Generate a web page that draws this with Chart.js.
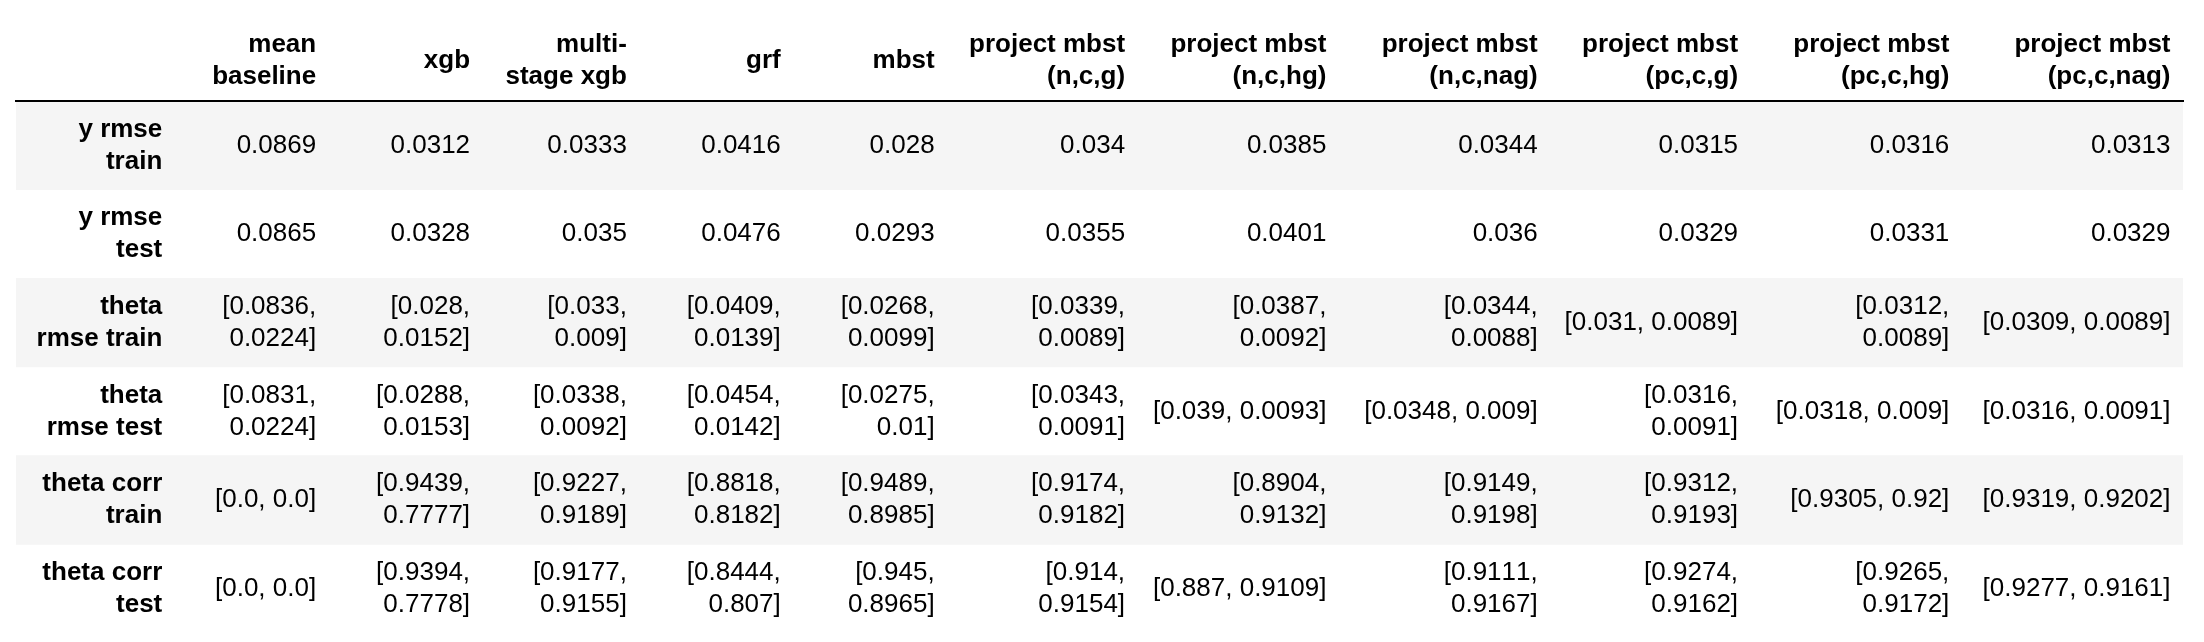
<!DOCTYPE html>
<html>
<head>
<meta charset="utf-8">
<script src="https://cdn.jsdelivr.net/npm/chart.js@4.4.1/dist/chart.umd.min.js"></script>
<style>
  html, body { margin: 0; padding: 0; background: #fff; }
  #wrap { width: 2204px; height: 642px; }
</style>
</head>
<body>
<div id="wrap"><canvas id="table"></canvas></div>
<script>
// Row labels (index) and column headers, line breaks as in the table
const rowLabels = [
    ['y rmse', 'train'],
    ['y rmse', 'test'],
    ['theta', 'rmse train'],
    ['theta', 'rmse test'],
    ['theta corr', 'train'],
    ['theta corr', 'test']
];
const columns = [
    ['mean', 'baseline'],
    ['xgb'],
    ['multi-', 'stage xgb'],
    ['grf'],
    ['mbst'],
    ['project mbst', '(n,c,g)'],
    ['project mbst', '(n,c,hg)'],
    ['project mbst', '(n,c,nag)'],
    ['project mbst', '(pc,c,g)'],
    ['project mbst', '(pc,c,hg)'],
    ['project mbst', '(pc,c,nag)']
];

// Values, one array per row, one entry per column
const yRmseTrain = [0.0869, 0.0312, 0.0333, 0.0416, 0.028, 0.034, 0.0385, 0.0344, 0.0315, 0.0316, 0.0313];
const yRmseTest = [0.0865, 0.0328, 0.035, 0.0476, 0.0293, 0.0355, 0.0401, 0.036, 0.0329, 0.0331, 0.0329];
const thetaRmseTrain = [[0.0836, 0.0224], [0.028, 0.0152], [0.033, 0.009], [0.0409, 0.0139], [0.0268, 0.0099],
    [0.0339, 0.0089], [0.0387, 0.0092], [0.0344, 0.0088], [0.031, 0.0089], [0.0312, 0.0089], [0.0309, 0.0089]];
const thetaRmseTest = [[0.0831, 0.0224], [0.0288, 0.0153], [0.0338, 0.0092], [0.0454, 0.0142], [0.0275, 0.01],
    [0.0343, 0.0091], [0.039, 0.0093], [0.0348, 0.009], [0.0316, 0.0091], [0.0318, 0.009], [0.0316, 0.0091]];
const thetaCorrTrain = [[0.0, 0.0], [0.9439, 0.7777], [0.9227, 0.9189], [0.8818, 0.8182], [0.9489, 0.8985],
    [0.9174, 0.9182], [0.8904, 0.9132], [0.9149, 0.9198], [0.9312, 0.9193], [0.9305, 0.92], [0.9319, 0.9202]];
const thetaCorrTest = [[0.0, 0.0], [0.9394, 0.7778], [0.9177, 0.9155], [0.8444, 0.807], [0.945, 0.8965],
    [0.914, 0.9154], [0.887, 0.9109], [0.9111, 0.9167], [0.9274, 0.9162], [0.9265, 0.9172], [0.9277, 0.9161]];

const rowValues = [yRmseTrain, yRmseTest, thetaRmseTrain, thetaRmseTest, thetaCorrTrain, thetaCorrTest];

// Look
const FONT = "'Liberation Sans', Arial, Helvetica, sans-serif";
const SIZE = 26;
const LINE = 32;          // line height in px
const PAD = 12.5;         // cell padding left/right
const STRIPE = '#f5f5f5';
const AREA = { left: 16, right: 21, top: 0, bottom: 9 };
const HEADER_H = 101;

// python style number text
function py(v) {
    return Number.isInteger(v) ? v.toFixed(1) : String(v);
}
function cellText(v) {
    return Array.isArray(v) ? '[' + v.map(py).join(', ') + ']' : py(v);
}
function joinLines(lines) {
    return lines.reduce((s, l) => s === '' ? l : (s.endsWith('-') ? s + l : s + ' ' + l), '');
}

const mctx = document.createElement('canvas').getContext('2d');
mctx.fontKerning = 'none';
function textW(t, bold) {
    mctx.font = (bold ? 'bold ' : '') + SIZE + 'px ' + FONT;
    return mctx.measureText(t).width;
}
function wrap(text, maxW) {
    const words = text.split(' ');
    const lines = [];
    let cur = '';
    words.forEach(w => {
        const test = cur ? cur + ' ' + w : w;
        if (cur && textW(test) > maxW) {
            lines.push(cur);
            cur = w;
        } else {
            cur = test;
        }
    });
    lines.push(cur);
    return lines;
}

// Auto table layout: column widths follow each column's one-line (max) content width
const maxContent = [Math.max(...rowLabels.map(l => textW(joinLines(l), true)))];
const minContent = [Math.max(...rowLabels.flat().map(l => textW(l, true)))];
columns.forEach((head, c) => {
    const cells = rowValues.map(r => cellText(r[c]));
    maxContent.push(Math.max(textW(joinLines(head), true), ...cells.map(t => textW(t))));
    minContent.push(Math.max(...head.map(l => textW(l, true)),
        ...cells.flatMap(t => t.split(' ')).map(t => textW(t))));
});
const tableW = 2204 - AREA.left - AREA.right;
const nCols = maxContent.length;
const shrink = (tableW - nCols * 2 * PAD) / maxContent.reduce((a, b) => a + b, 0);
const contentW = maxContent.map((m, i) => Math.max(minContent[i], m * shrink));
const textRight = [];
let edge = 0;
contentW.forEach(w => {
    edge += w + 2 * PAD;
    textRight.push(edge - PAD);
});
const tableMax = edge;

// wrapped cell text
const cellLines = rowValues.map(r => r.map((v, c) => wrap(cellText(v), contentW[c + 1])));

const widestRowLine = Math.max(...rowLabels.flat().map(l => textW(l, true)));

// draws the body cells at the scales' positions
const cellPlugin = {
    id: 'cellText',
    afterDatasetsDraw(chart) {
        const { ctx, scales: { x, y } } = chart;
        ctx.save();
        ctx.font = SIZE + 'px ' + FONT;
        ctx.fontKerning = 'none';
        ctx.fillStyle = '#000';
        ctx.textAlign = 'right';
        ctx.textBaseline = 'middle';
        cellLines.forEach((row, r) => {
            const cy = y.getPixelForValue(r);
            row.forEach((lines, c) => {
                const cx = x.getPixelForValue(textRight[c + 1]);
                lines.forEach((t, i) => {
                    ctx.fillText(t, cx, cy + (i - (lines.length - 1) / 2) * LINE);
                });
            });
        });
        ctx.restore();
    }
};

Chart.defaults.font.family = FONT;
Chart.defaults.color = '#000';

new Chart(document.getElementById('table'), {
    type: 'bar',
    data: {
        labels: rowLabels,
        datasets: [{
            // striped rows
            data: rowLabels.map((_, i) => i % 2 === 0 ? [0, tableMax] : null),
            backgroundColor: STRIPE,
            borderWidth: 0,
            barPercentage: 1,
            categoryPercentage: 1
        }]
    },
    options: {
        indexAxis: 'y',
        responsive: true,
        maintainAspectRatio: false,
        devicePixelRatio: 1,
        animation: false,
        layout: { padding: AREA },
        plugins: {
            legend: { display: false },
            tooltip: { enabled: false }
        },
        scales: {
            x: {
                type: 'linear',
                position: 'top',
                min: 0,
                max: tableMax,
                afterBuildTicks: s => { s.ticks = textRight.slice(1).map(v => ({ value: v })); },
                afterFit: s => { s.height = HEADER_H; },
                grid: { display: false, drawTicks: false },
                border: { display: true, color: '#000', width: 2, z: 1 },
                ticks: {
                    autoSkip: false,
                    maxRotation: 0,
                    minRotation: 0,
                    align: 'end',
                    crossAlign: 'center',
                    padding: 24,
                    z: 1,
                    font: { size: SIZE, weight: 'bold', lineHeight: LINE / SIZE },
                    callback: (value, index) => columns[index]
                }
            },
            y: {
                type: 'category',
                position: 'left',
                afterFit: s => {
                    s.width = 0;
                    s.paddingTop = 0;
                    s.paddingBottom = 0;
                },
                grid: { display: false, drawTicks: false },
                border: { display: false },
                ticks: {
                    mirror: true,
                    crossAlign: 'far',
                    z: 1,
                    padding: textRight[0] - widestRowLine,
                    font: { size: SIZE, weight: 'bold', lineHeight: LINE / SIZE }
                }
            }
        }
    },
    plugins: [cellPlugin]
});
</script>
</body>
</html>
